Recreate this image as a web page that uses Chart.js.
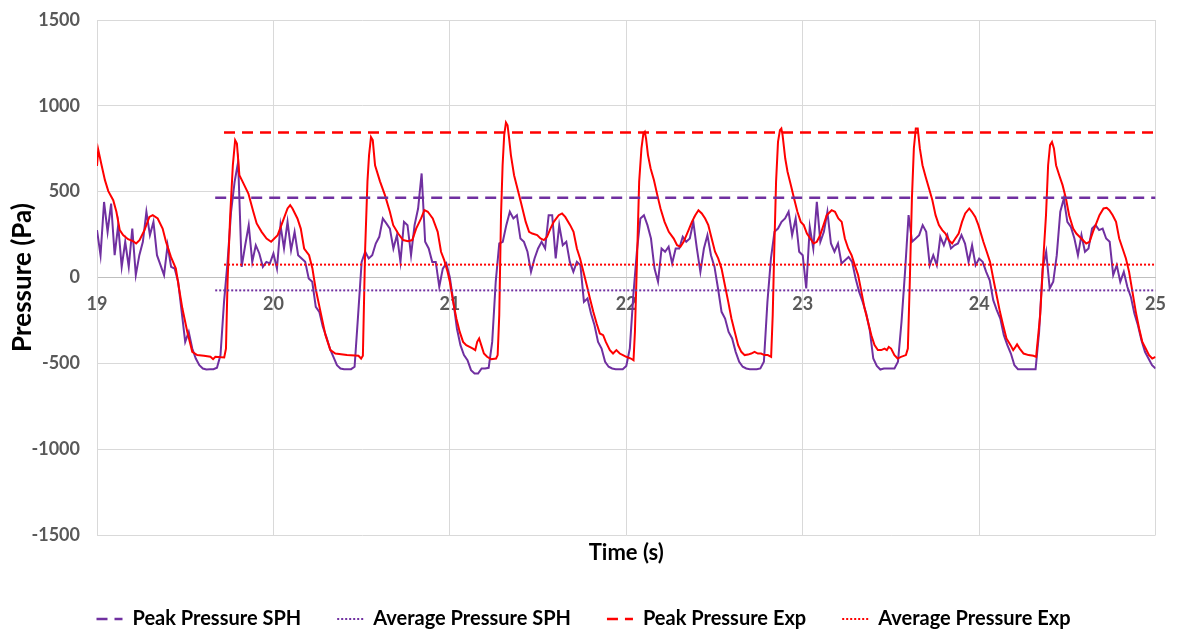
<!DOCTYPE html>
<html>
<head>
<meta charset="utf-8">
<script src="https://cdn.jsdelivr.net/npm/chart.js@4"></script>
<style>
  html, body { margin: 0; background: #fff; }
  #chart { display: block; }
</style>
</head>
<body>
<canvas id="chart" width="1182" height="630"></canvas>
<script>
// SPH pressure, sampled every 0.02 s from t = 19 s
const sphStart = 19;
const sphStep = 0.02;
const sphPressure = [
  276, 130, 440, 266, 431, 130, 305, 62, 208, 62,
  285, 14, 130, 208, 383, 247, 324, 130, 72, 14,
  188, 62, 52, -25, -200, -375, -317, -414, -472, -511,
  -530, -536, -534, -534, -526, -452, -142, 91, 383, 557,
  674, 62, 188, 305, 91, 188, 140, 62, 91, 82,
  140, 52, 305, 169, 324, 159, 266, 130, 111, 91,
  -6, -25, -171, -200, -287, -346, -414, -462, -511, -530,
  -534, -534, -534, -520, -219, 91, 150, 111, 130, 198,
  237, 344, 315, 285, 169, 247, 91, 324, 305, 130,
  305, 402, 606, 208, 169, 91, 91, -54, 52, 82,
  0, -142, -297, -394, -452, -482, -540, -559, -559, -530,
  -530, -526, -375, -25, 198, 208, 305, 383, 344, 363,
  227, 208, 150, 33, 111, 169, 208, 169, 363, 363,
  111, 305, 188, 208, 91, 33, 91, 72, -142, -122,
  -210, -278, -375, -414, -491, -520, -530, -534, -534, -534,
  -515, -414, -103, 150, 344, 363, 305, 227, 52, -25,
  169, 150, 179, 82, 169, 169, 237, 208, 227, 324,
  169, 33, 169, 247, 130, 62, -64, -200, -239, -317,
  -355, -433, -491, -520, -530, -534, -534, -534, -530, -491,
  -142, 111, 266, 285, 324, 344, 383, 247, 344, 150,
  130, -64, 295, 169, 441, 208, 266, 383, 198, 150,
  198, 82, 101, 120, 91, -6, -84, -142, -210, -307,
  -472, -515, -536, -530, -530, -530, -530, -491, -258, 33,
  363, 208, 227, 247, 305, 266, 72, 130, 72, 237,
  188, 247, 169, 188, 198, 247, 198, 91, 188, 72,
  110, 91, 33, -16, -132, -190, -239, -336, -394, -443,
  -511, -534, -534, -534, -534, -534, -534, -317, 52, 150,
  -64, -25, 130, 383, 460, 324, 295, 227, 130, 247,
  150, 169, 285, 305, 276, 285, 227, 208, 14, 72,
  -25, 33, -54, -113, -210, -278, -365, -433, -472, -511,
  -530
];

// Experimental pressure, read at the visible vertices of the curve
const expTime = [
  19.000, 19.007, 19.026, 19.045, 19.064, 19.092, 19.110, 19.129, 19.148, 19.176,
  19.204, 19.222, 19.241, 19.269, 19.297, 19.316, 19.344, 19.372, 19.391, 19.419,
  19.447, 19.465, 19.484, 19.512, 19.540, 19.568, 19.606, 19.643, 19.658, 19.671,
  19.721, 19.731, 19.740, 19.755, 19.770, 19.783, 19.793, 19.807, 19.821, 19.858,
  19.886, 19.905, 19.933, 19.961, 19.987,
  20.024, 20.052, 20.080, 20.095, 20.108, 20.136, 20.155, 20.174, 20.202, 20.221,
  20.239, 20.267, 20.295, 20.323, 20.351, 20.417, 20.482, 20.497, 20.507, 20.520,
  20.533, 20.542, 20.553, 20.563, 20.576, 20.604, 20.632, 20.660, 20.679, 20.707,
  20.735, 20.763, 20.787, 20.809, 20.837, 20.856, 20.875, 20.903, 20.931, 20.950,
  20.968, 20.987,
  21.000, 21.019, 21.037, 21.056, 21.075, 21.093, 21.112, 21.131, 21.144, 21.155,
  21.166, 21.178, 21.193, 21.211, 21.234, 21.262, 21.271, 21.280, 21.290, 21.299,
  21.308, 21.318, 21.327, 21.336, 21.346, 21.364, 21.383, 21.402, 21.430, 21.449,
  21.467, 21.495, 21.514, 21.533, 21.551, 21.570, 21.589, 21.617, 21.636, 21.654,
  21.682, 21.701, 21.720, 21.738, 21.757, 21.776, 21.794, 21.813, 21.832, 21.850,
  21.869, 21.884, 21.907, 21.925, 21.944, 21.963, 21.981, 22.000,
  22.026, 22.041, 22.049, 22.060, 22.073, 22.086, 22.097, 22.105, 22.112, 22.123,
  22.138, 22.157, 22.176, 22.194, 22.217, 22.241, 22.269, 22.288, 22.307, 22.325,
  22.353, 22.372, 22.391, 22.409, 22.428, 22.447, 22.465, 22.484, 22.503, 22.521,
  22.540, 22.559, 22.578, 22.596, 22.615, 22.634, 22.652, 22.671, 22.690, 22.708,
  22.727, 22.746, 22.764, 22.783, 22.802, 22.821, 22.830, 22.839, 22.849, 22.860,
  22.871, 22.879, 22.886, 22.901, 22.914, 22.933, 22.951, 22.970, 22.989,
  23.006, 23.024, 23.043, 23.062, 23.080, 23.099, 23.118, 23.136, 23.164, 23.183,
  23.202, 23.221, 23.239, 23.258, 23.277, 23.295, 23.314, 23.333, 23.351, 23.370,
  23.389, 23.407, 23.426, 23.445, 23.464, 23.477, 23.488, 23.501, 23.520, 23.538,
  23.557, 23.585, 23.596, 23.607, 23.619, 23.630, 23.641, 23.652, 23.664, 23.679,
  23.697, 23.716, 23.735, 23.753, 23.772, 23.791, 23.809, 23.828, 23.847, 23.865,
  23.884, 23.903, 23.921, 23.944, 23.959, 23.978, 23.996,
  24.024, 24.043, 24.062, 24.080, 24.099, 24.118, 24.136, 24.155, 24.178, 24.193,
  24.206, 24.215, 24.230, 24.252, 24.280, 24.308, 24.323, 24.346, 24.364, 24.379,
  24.391, 24.402, 24.413, 24.424, 24.436, 24.454, 24.473, 24.492, 24.510, 24.533,
  24.551, 24.579, 24.607, 24.626, 24.645, 24.664, 24.682, 24.705, 24.723, 24.738,
  24.757, 24.776, 24.794, 24.813, 24.832, 24.850, 24.869, 24.888, 24.907, 24.925,
  24.944, 24.963, 24.981, 25.000
];
const expPressure = [
  650, 745, 654, 567, 503, 450, 383, 276, 247, 223,
  212, 198, 218, 276, 353, 363, 344, 285, 208, 120,
  52, -64, -181, -317, -433, -452, -456, -462, -476, -462,
  -466, -414, -25, 363, 654, 800, 781, 596, 567, 489,
  383, 315, 266, 227, 208,
  247, 324, 402, 421, 402, 344, 285, 169, 130, 52,
  -64, -200, -336, -423, -443, -452, -456, -472, -456, 170,
  560, 713, 818, 800, 654, 560, 480, 383, 305, 256,
  218, 212, 218, 285, 344, 392, 383, 344, 266, 150,
  101, 33,
  -25, -142, -239, -317, -375, -394, -404, -414, -423, -375,
  -355, -394, -443, -462, -476, -472, -452, -219, 363, 654,
  829, 903, 887, 810, 713, 596, 518, 441, 324, 266,
  256, 247, 227, 218, 237, 285, 324, 363, 373, 353,
  305, 266, 169, 111, 33, -45, -122, -200, -268, -326,
  -336, -375, -423, -443, -423, -443, -452, -462,
  -472, -482, -317, 72, 557, 752, 839, 849, 810, 713,
  635, 567, 480, 402, 324, 266, 227, 188, 179, 208,
  276, 324, 363, 392, 373, 344, 305, 227, 150, 111,
  52, -45, -142, -239, -317, -394, -433, -452, -449, -443,
  -433, -443, -443, -452, -452, -462, -219, 169, 557, 790,
  858, 868, 829, 693, 616, 538, 460, 383, 324,
  305, 256, 227, 198, 208, 247, 305, 363, 392, 383,
  344, 324, 227, 169, 130, 72, 14, -84, -181, -258,
  -336, -394, -423, -423, -414, -423, -404, -414, -452, -472,
  -462, -452, -414, -25, 460, 752, 868, 868, 752, 654,
  586, 518, 450, 363, 305, 276, 256, 218, 198, 227,
  256, 324, 373, 402, 383, 353, 305,
  208, 150, 91, -6, -103, -200, -278, -355, -394, -423,
  -404, -390, -414, -443, -452, -456, -462, -219, 111, 363,
  654, 771, 790, 752, 654, 596, 538, 460, 363, 285,
  256, 227, 198, 208, 266, 315, 363, 402, 406, 392,
  363, 324, 227, 169, 111, 33, -84, -200, -297, -375,
  -414, -452, -472, -462
];

// reference levels
const peakSph = 465;
const avgSph = -75;
const peakExp = 845;
const avgExp = 75;
const refStartSph = 19.67;
const refStartExp = 19.72;
const refEnd = 25;

const xMin = 19, xMax = 25, xStep = 1;
const yMin = -1500, yMax = 1500, yStep = 500;

const PURPLE = "#7030A0";
const RED = "#FF0000";
const FONT = 'Lato, "DejaVu Sans", sans-serif';

const sphData = sphPressure.map((v, i) => ({
  x: Math.round((sphStart + i * sphStep) * 1000) / 1000,
  y: v,
}));
const expData = expTime.map((t, i) => ({ x: t, y: expPressure[i] }));

function refLine(label, start, value, color, dash, width) {
  return {
    label,
    data: [
      { x: start, y: value },
      { x: refEnd, y: value },
    ],
    borderColor: color,
    backgroundColor: color,
    borderDash: dash,
    borderWidth: width,
    pointRadius: 0,
    fill: false,
  };
}

// keep the label overhang of these axes from pushing the plot area around
function noPadding(scale) {
  scale.paddingTop = 0;
  scale.paddingBottom = 0;
}

new Chart(document.getElementById("chart").getContext("2d"), {
  type: "line",
  data: {
    datasets: [
      refLine("Peak Pressure SPH", refStartSph, peakSph, PURPLE, [11, 7], 2.5),
      refLine("Average Pressure SPH", refStartSph, avgSph, PURPLE, [2, 2], 2),
      refLine("Peak Pressure Exp", refStartExp, peakExp, RED, [11, 7], 2.5),
      refLine("Average Pressure Exp", refStartExp, avgExp, RED, [2, 2], 2),
      {
        label: "Exp",
        data: expData,
        borderColor: RED,
        borderWidth: 2,
        pointRadius: 0,
        tension: 0,
      },
      {
        label: "SPH",
        data: sphData,
        borderColor: PURPLE,
        borderWidth: 2,
        pointRadius: 0,
        tension: 0,
      },
    ],
  },
  options: {
    responsive: false,
    animation: false,
    layout: { padding: { left: 0, top: 20, right: 15, bottom: -9 } },
    scales: {
      x: {
        type: "linear",
        min: xMin,
        max: xMax,
        position: "bottom",
        ticks: { display: false, stepSize: xStep },
        grid: { color: "#d9d9d9", drawTicks: false },
        border: { display: false },
        title: {
          display: true,
          text: "Time (s)",
          color: "#000",
          font: { family: FONT, size: 22, weight: "bold" },
          padding: { top: 0, bottom: 7 },
        },
        afterFit: (scale) => {
          scale.height = 38;
        },
      },
      x2: {
        type: "linear",
        min: xMin,
        max: xMax,
        position: { y: 0 },
        ticks: {
          stepSize: xStep,
          color: "#595959",
          padding: 16,
          font: { family: FONT, size: 18, weight: "bold" },
        },
        grid: { display: false, drawTicks: false },
        border: { display: true, color: "#bfbfbf", width: 1 },
        afterFit: noPadding,
      },
      y: {
        min: yMin,
        max: yMax,
        ticks: {
          stepSize: yStep,
          color: "#595959",
          padding: 17,
          font: { family: FONT, size: 18, weight: "bold" },
          callback: (v) => String(v),
        },
        grid: { color: "#d9d9d9", drawTicks: false },
        border: { color: "#d9d9d9" },
        title: {
          display: true,
          text: "Pressure (Pa)",
          color: "#000",
          font: { family: FONT, size: 26, weight: "bold" },
          padding: { top: 7, bottom: 0 },
        },
        afterFit: (scale) => {
          scale.width = 97;
          noPadding(scale);
        },
      },
    },
    plugins: {
      legend: {
        position: "bottom",
        labels: {
          usePointStyle: true,
          pointStyle: "line",
          pointStyleWidth: 26,
          color: "#000",
          padding: 36,
          font: { family: FONT, size: 20, weight: "bold" },
          filter: (item) => item.datasetIndex < 4,
          generateLabels: (chart) =>
            Chart.defaults.plugins.legend.labels
              .generateLabels(chart)
              .map((item) => {
                const ds = chart.data.datasets[item.datasetIndex];
                item.lineDash = ds.borderDash;
                item.lineWidth = ds.borderWidth;
                item.strokeStyle = ds.borderColor;
                return item;
              }),
        },
      },
      tooltip: { enabled: false },
    },
  },
});
</script>
</body>
</html>
